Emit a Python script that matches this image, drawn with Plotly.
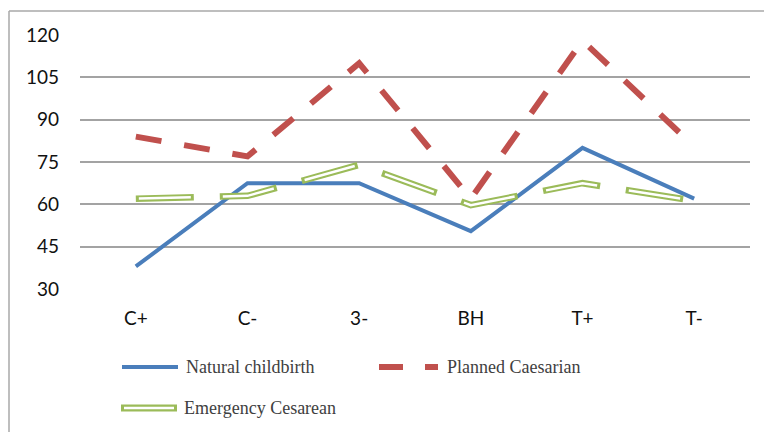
import plotly.graph_objects as go

categories = ["C+", "C-", "3-", "BH", "T+", "T-"]
natural = [38, 67.5, 67.5, 50.5, 80, 62]
planned = [84, 77, 110, 62, 118, 80.5]
emergency = [62, 63, 74, 59.7, 67.5, 61.3]
y_ticks = [30, 45, 60, 75, 90, 105, 120]
series_names = ["Natural childbirth", "Planned Caesarian", "Emergency Cesarean"]

BLUE = "#4A7EBB"
RED = "#C0504D"
GREEN = "#9BBB59"
GRID = "#A3A3A3"

W, H = 764, 432
L, R, T, B = 80, 14, 35, 143
PW, PH = W - L - R, H - T - B


def px(x):
    return (x - L) / PW


def py(y):
    return (H - B - y) / PH


fig = go.Figure()
fig.add_trace(go.Scatter(x=categories, y=natural, mode="lines", name=series_names[0],
                         line=dict(color=BLUE, width=4), showlegend=False, cliponaxis=False))
fig.add_trace(go.Scatter(x=categories, y=planned, mode="lines", name=series_names[1],
                         line=dict(color=RED, width=6, dash="26px,23px"), showlegend=False,
                         cliponaxis=False))
fig.add_trace(go.Scatter(x=categories, y=emergency, mode="lines", name=series_names[2],
                         line=dict(color=GREEN, width=6.5, dash="58px,26px"), showlegend=False,
                         cliponaxis=False))
fig.add_trace(go.Scatter(x=categories, y=emergency, mode="lines", name=series_names[2],
                         line=dict(color="white", width=2.5, dash="0px,3px,52px,29px"),
                         showlegend=False, hoverinfo="skip", cliponaxis=False))

shapes = []
# outer frame (left and top borders)
shapes.append(dict(type="line", xref="paper", yref="paper", x0=px(9), x1=px(9), y0=py(11), y1=py(440),
                   line=dict(color="#A8A8A8", width=1.5)))
shapes.append(dict(type="line", xref="paper", yref="paper", x0=px(9), x1=px(770), y0=py(11), y1=py(11),
                   line=dict(color="#A8A8A8", width=1.5)))
# legend samples
shapes.append(dict(type="line", xref="paper", yref="paper", x0=px(122), x1=px(178), y0=py(367), y1=py(367),
                   line=dict(color=BLUE, width=4)))
shapes.append(dict(type="line", xref="paper", yref="paper", x0=px(379), x1=px(438), y0=py(367), y1=py(367),
                   line=dict(color=RED, width=6, dash="24px,22px,14px")))
shapes.append(dict(type="line", xref="paper", yref="paper", x0=px(121), x1=px(177), y0=py(408), y1=py(408),
                   line=dict(color=GREEN, width=7)))
shapes.append(dict(type="line", xref="paper", yref="paper", x0=px(124), x1=px(174), y0=py(408), y1=py(408),
                   line=dict(color="white", width=2.5)))

leg_font = dict(family="Liberation Serif, Times New Roman, serif", size=18, color="#404040")
annotations = [
    dict(xref="paper", yref="paper", x=px(184), y=py(367), text=series_names[0], showarrow=False,
         xanchor="left", yanchor="middle", font=leg_font),
    dict(xref="paper", yref="paper", x=px(445), y=py(367), text=series_names[1], showarrow=False,
         xanchor="left", yanchor="middle", font=leg_font),
    dict(xref="paper", yref="paper", x=px(182), y=py(408), text=series_names[2], showarrow=False,
         xanchor="left", yanchor="middle", font=leg_font),
]

tick_font = dict(family="Lato, Open Sans, sans-serif", size=19, color="#111111")
fig.update_layout(
    width=W, height=H,
    margin=dict(l=L, r=R, t=T, b=B),
    paper_bgcolor="white", plot_bgcolor="white",
    shapes=shapes, annotations=annotations,
    xaxis=dict(type="category", range=[-0.5, 5.5], showgrid=False, zeroline=False, showline=False,
               ticks="", tickfont=tick_font, ticklabelstandoff=16),
    yaxis=dict(range=[30, 120], tickvals=y_ticks, showgrid=True, gridcolor=GRID, gridwidth=1.5,
               zeroline=False, showline=False, ticks="", tickfont=tick_font, ticklabelstandoff=20),
    showlegend=False,
)

fig.write_html("out.html", config={"displayModeBar": False},
               post_script="document.body.style.margin='0';document.body.style.overflow='hidden';")
